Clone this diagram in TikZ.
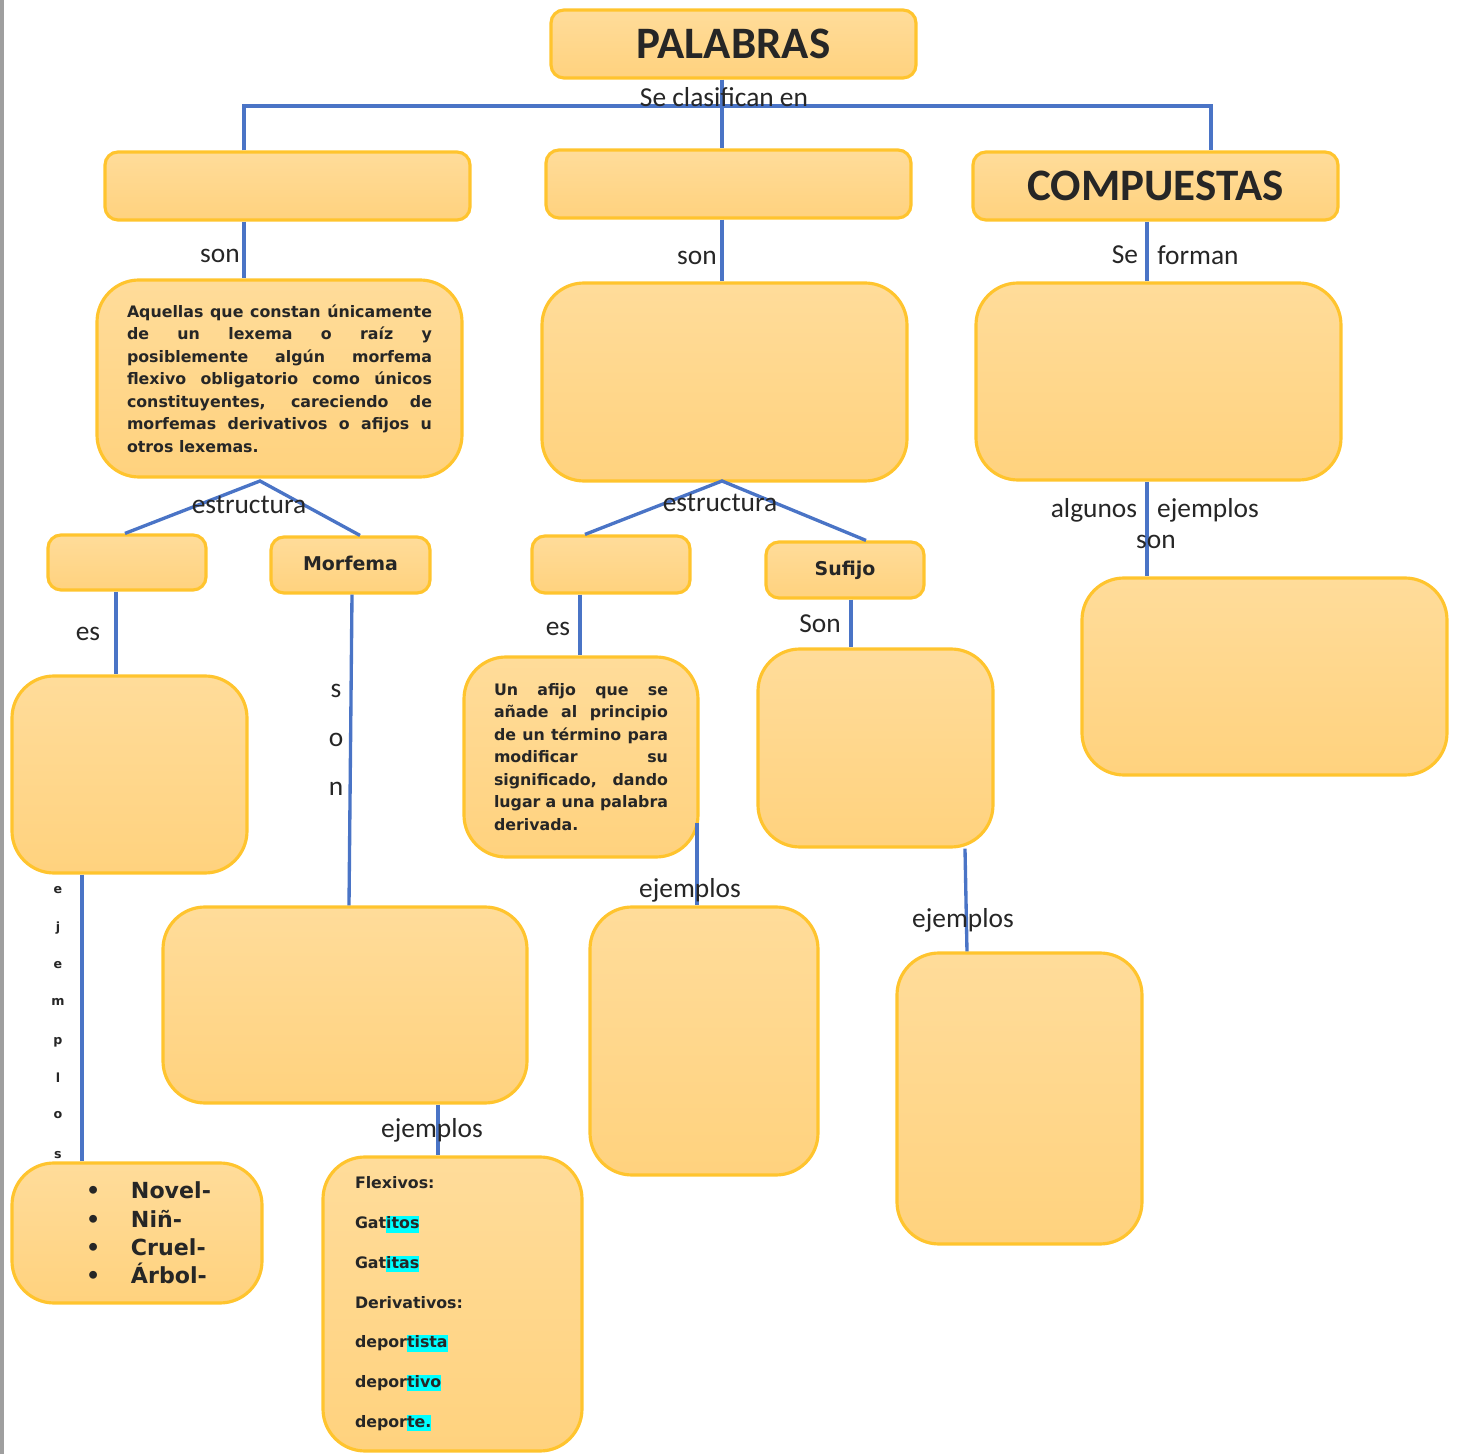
\documentclass[tikz,border=0pt]{standalone}
\usepackage{fontspec}
\setmainfont{Carlito}
\newfontfamily\cajafont{DejaVu Sans}
\usetikzlibrary{positioning}
\definecolor{cajaarriba}{HTML}{FFDC9A}
\definecolor{cajaabajo}{HTML}{FFD27E}
\definecolor{borde}{HTML}{FFC42E}
\definecolor{azul}{HTML}{4A74C6}
\definecolor{texto}{HTML}{262626}
\definecolor{resalte}{HTML}{00FFFF}
\newcommand{\res}[1]{{\setlength{\fboxsep}{0pt}\colorbox{resalte}{\rule[-1.1pt]{0pt}{4.6pt}#1}}}
\newcommand{\vineta}{\makebox[4.5mm][l]{•}}
\hyphenpenalty=10000
\exhyphenpenalty=10000
\begin{document}
\begin{tikzpicture}[x=0.1mm,y=-0.1mm,
    caja/.style={rectangle, rounded corners=4.2mm, draw=borde, line width=0.9pt,
      top color=cajaarriba, bottom color=cajaabajo, inner sep=0pt, text=texto},
    cajita/.style={caja, rounded corners=1.3mm},
    linea/.style={draw=azul, line width=0.95pt},
    etiqueta/.style={inner sep=0pt, text=texto, font=\fontsize{7.8}{9}\selectfont},
    parrafo/.style={font=\cajafont\bfseries\fontsize{4.5}{6.4}\selectfont, align=justify}]
  \useasboundingbox (0,0) rectangle (1461,1454);
  \fill[gray!75] (0,0) rectangle (4,1454);
  % nivel 1 y 2
  \node[cajita, minimum width=36.5mm, minimum height=6.8mm, font=\bfseries\fontsize{12.8}{14}\selectfont] (palabras) at (733.5,44) {PALABRAS};
  \node[cajita, minimum width=36.5mm, minimum height=6.8mm] (simples) at (287.5,186) {};
  \node[cajita, minimum width=36.5mm, minimum height=6.8mm] (derivadas) at (728.5,184) {};
  \node[cajita, minimum width=36.5mm, minimum height=6.8mm, font=\bfseries\fontsize{12.8}{14}\selectfont] (compuestas) at (1155.5,186) {COMPUESTAS};
  % definiciones
  \node[caja, minimum width=36.5mm, minimum height=19.7mm, parrafo, text width=30.5mm] (defsimples) at (279.5,378.5)
    {Aquellas que constan únicamente\linebreak de un lexema o raíz y\linebreak posiblemente algún morfema\linebreak flexivo obligatorio como únicos\linebreak constituyentes, careciendo de\linebreak morfemas derivativos o afijos u\linebreak otros lexemas.};
  \node[caja, minimum width=36.5mm, minimum height=19.8mm] (defderivadas) at (724.5,382) {};
  \node[caja, minimum width=36.5mm, minimum height=19.7mm] (defcompuestas) at (1158.5,381.5) {};
  % estructura
  \node[cajita, minimum width=15.8mm, minimum height=5.5mm] (lexema) at (127,562.5) {};
  \node[cajita, minimum width=15.9mm, minimum height=5.6mm, font=\cajafont\bfseries\fontsize{5.4}{6}\selectfont] (morfema) at (350.5,565) {\raisebox{1.2pt}{Morfema}};
  \node[cajita, minimum width=15.8mm, minimum height=5.7mm] (prefijo) at (611,564.5) {};
  \node[cajita, minimum width=15.8mm, minimum height=5.6mm, font=\cajafont\bfseries\fontsize{5.4}{6}\selectfont] (sufijo) at (845,570) {Sufijo};
  \node[caja, minimum width=36.5mm, minimum height=19.7mm] (ejcompuestas) at (1264.5,676.5) {};
  % nivel inferior
  \node[caja, minimum width=23.5mm, minimum height=19.7mm] (deflexema) at (129.5,774.5) {};
  \node[caja, minimum width=25mm, minimum height=14mm, font=\cajafont\bfseries\fontsize{6.3}{8.1}\selectfont, align=left, text width=10.2mm] (ejlexema) at (137,1233)
    {\vineta Novel-\\\vineta Niñ-\\\vineta Cruel-\\\vineta Árbol-};
  \node[caja, minimum width=36.4mm, minimum height=19.6mm] (defmorfema) at (345,1005) {};
  \node[caja, minimum width=25.9mm, minimum height=29.4mm, font=\cajafont\bfseries\fontsize{4.5}{11.3}\selectfont, align=left, text width=19.5mm] (ejmorfema) at (452.5,1304)
    {Flexivos:\\Gat\res{itos}\\Gat\res{itas}\\Derivativos:\\depor\res{tista}\\depor\res{tivo}\\depor\res{te.}};
  \node[caja, minimum width=23.4mm, minimum height=20mm, parrafo, text width=17.4mm] (defprefijo) at (581,757)
    {Un afijo que se\linebreak añade al principio\linebreak de un término para\linebreak modificar su\linebreak significado, dando\linebreak lugar a una palabra\linebreak derivada.};
  \node[caja, minimum width=22.8mm, minimum height=26.8mm] (ejprefijo) at (704,1041) {};
  \node[caja, minimum width=23.5mm, minimum height=19.8mm] (defsufijo) at (875.5,748) {};
  \node[caja, minimum width=24.5mm, minimum height=29.1mm] (ejsufijo) at (1019.5,1098.5) {};
  % conectores
  \coordinate (barra) at (0,106);
  \coordinate (xp) at (722,0);
  \coordinate (xi) at (244,0);
  \coordinate (xd) at (1211,0);
  \coordinate (xc) at (1147,0);
  \draw[linea] (palabras.south -| xp) -- (derivadas.north -| xp);
  \draw[linea] (simples.north -| xi) -- (xi |- barra) -- (xd |- barra) -- (compuestas.north -| xd);
  \draw[linea] (simples.south -| xi) -- (defsimples.north -| xi);
  \draw[linea] (derivadas.south -| xp) -- (defderivadas.north -| xp);
  \draw[linea] (compuestas.south -| xc) -- (defcompuestas.north -| xc);
  \draw[linea] (defcompuestas.south -| xc) -- (ejcompuestas.north -| xc);
  \coordinate (vi) at (260,481);
  \coordinate (vd) at (722,481);
  \draw[linea] (lexema.north -| 125,0) -- (vi) -- (morfema.north -| 360,0);
  \draw[linea] (prefijo.north -| 585,0) -- (vd) -- (sufijo.north -| 866,0);
  \draw[linea] (lexema.south -| 116,0) -- (deflexema.north -| 116,0);
  \draw[linea] (deflexema.south -| 82,0) -- (ejlexema.north -| 82,0);
  \draw[linea] (morfema.south -| 352,0) -- (defmorfema.north -| 349,0);
  \draw[linea] (defmorfema.south -| 438,0) -- (ejmorfema.north -| 438,0);
  \draw[linea] (prefijo.south -| 580,0) -- (defprefijo.north -| 580,0);
  \coordinate (sprefijo) at (697,823);
  \draw[linea] (sprefijo) -- (ejprefijo.north -| sprefijo);
  \draw[linea] (sufijo.south -| 851,0) -- (defsufijo.north -| 851,0);
  \draw[linea] (defsufijo.south -| 965,0) -- (ejsufijo.north -| 967,0);
  % etiquetas
  \node[etiqueta] (clasifican) at (724,97) {Se clasifican en};
  \node[etiqueta] (son1) at (220,256) {son};
  \node[etiqueta] (son2) at (697,258) {son};
  \node[etiqueta] (se) at (1125,255) {Se};
  \node[etiqueta] (forman) at (1198,255) {forman};
  \node[etiqueta] (estr1) at (249,505) {estructura};
  \node[etiqueta] (estr2) at (720,503) {estructura};
  \node[etiqueta] (algunos) at (1094,510) {algunos};
  \node[etiqueta] (ejemplos1) at (1208,510) {ejemplos};
  \node[etiqueta] (son3) at (1156,542) {son};
  \node[etiqueta] (es1) at (88,634) {es};
  \node[etiqueta] (es2) at (558,629) {es};
  \node[etiqueta] (son4) at (820,624) {Son};
  \node[etiqueta] (ejemplos2) at (690,890) {ejemplos};
  \node[etiqueta] (ejemplos3) at (963,920) {ejemplos};
  \node[etiqueta] (ejemplos4) at (432,1130) {ejemplos};
  \foreach \l [count=\i] in {s,o,n}
    \node[etiqueta] (son5-\i) at (336,642+49*\i) {\l};
  \foreach \l/\y [count=\i] in {e/890,j/928,e/965,m/1002,p/1042,l/1078,o/1115,s/1155}
    \node[etiqueta, font=\cajafont\bfseries\fontsize{3.6}{4}\selectfont] (ejl-\i) at (58,\y) {\l};
\end{tikzpicture}
\end{document}
